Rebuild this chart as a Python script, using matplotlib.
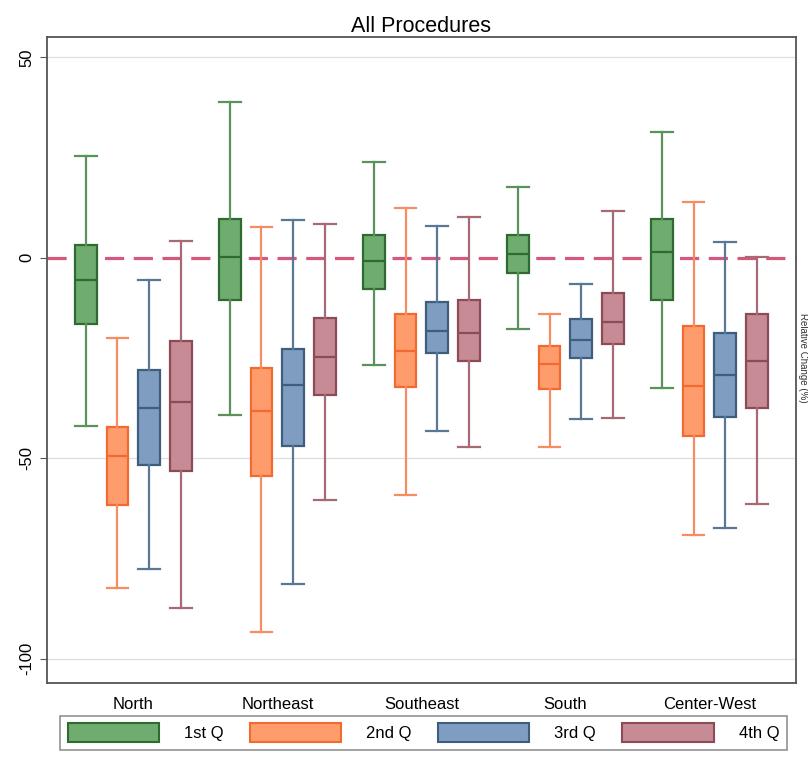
import matplotlib
matplotlib.use("Agg")
import matplotlib.pyplot as plt
from matplotlib.patches import Patch

plt.rcParams['font.family'] = ['Liberation Sans', 'DejaVu Sans']

regions = ["North", "Northeast", "Southeast", "South", "Center-West"]
quartiles = ["1st Q", "2nd Q", "3rd Q", "4th Q"]

# per quartile group: [whislo, q1, median, q3, whishi] for each region
q1_stats = [[-41.9, -16.4, -5.5, 3.2, 25.5],
            [-39.1, -10.4, 0.2, 9.6, 38.8],
            [-26.8, -7.9, -0.7, 5.8, 24.0],
            [-17.8, -3.8, 1.0, 5.6, 17.7],
            [-32.4, -10.6, 1.5, 9.8, 31.3]]
q2_stats = [[-82.3, -61.6, -49.4, -42.3, -19.9],
            [-93.4, -54.4, -38.3, -27.6, 7.8],
            [-59.1, -32.2, -23.3, -14.1, 12.4],
            [-47.1, -32.7, -26.4, -22.1, -14.1],
            [-69.1, -44.5, -32.0, -17.1, 14.0]]
q3_stats = [[-77.5, -51.8, -37.4, -27.9, -5.6],
            [-81.3, -46.9, -31.7, -22.8, 9.4],
            [-43.1, -23.7, -18.2, -11.0, 8.0],
            [-40.3, -25.1, -20.4, -15.2, -6.5],
            [-67.4, -39.6, -29.3, -18.8, 3.9]]
q4_stats = [[-87.3, -53.2, -35.9, -20.8, 4.1],
            [-60.5, -34.2, -24.7, -15.1, 8.5],
            [-47.1, -25.7, -18.7, -10.6, 10.1],
            [-39.9, -21.6, -16.1, -8.8, 11.6],
            [-61.4, -37.4, -25.7, -14.1, 0.3]]
all_stats = [q1_stats, q2_stats, q3_stats, q4_stats]

faces = ["#6fac6f", "#ff9c6b", "#7f9dc0", "#c68b94"]
edges = ["#2f6b30", "#f26a30", "#3f5d7d", "#8c4b57"]
whisk = ["#5a925b", "#f78c62", "#5a7896", "#a66a74"]
offsets = [-0.33, -0.11, 0.11, 0.33]
width = 0.15

fig = plt.figure(figsize=(8.08, 7.62), dpi=100)
ax = fig.add_axes([0.058, 0.104, 0.927, 0.847])

for gi, stats in enumerate(all_stats):
    bstats = []
    for s in stats:
        bstats.append(dict(whislo=s[0], q1=s[1], med=s[2], q3=s[3], whishi=s[4], fliers=[]))
    pos = [i + offsets[gi] for i in range(len(regions))]
    ax.bxp(bstats, positions=pos, widths=width, patch_artist=True, showfliers=False,
           capwidths=width,
           boxprops=dict(facecolor=faces[gi], edgecolor=edges[gi], linewidth=1.6),
           medianprops=dict(color=edges[gi], linewidth=1.6),
           whiskerprops=dict(color=whisk[gi], linewidth=1.6),
           capprops=dict(color=whisk[gi], linewidth=1.6), zorder=3)

for yv in [50, -50, -100]:
    ax.axhline(yv, color="#dddddd", linewidth=0.9, zorder=1)
ax.axhline(0, color="#d4587c", linestyle=(0, (6, 3)), linewidth=2.3, zorder=2)

ax.set_xlim(-0.6, 4.6)
ax.set_ylim(-106, 55)
ax.set_yticks([50, 0, -50, -100])
ax.set_yticklabels(["50", "0", "-50", "-100"], rotation=90, va="center", fontsize=12)
ax.set_xticks(range(len(regions)))
ax.set_xticklabels(regions, fontsize=12)
ax.tick_params(axis="x", length=0, pad=10)
ax.tick_params(axis="y", length=5, color="#555555", pad=4)
for sp in ax.spines.values():
    sp.set_color("#555555")
    sp.set_linewidth(1.3)

ax.set_title("All Procedures", fontsize=15.5, pad=4)

fig.text(0.988, 0.53, "Relative Change (%)", rotation=-90, va="center", ha="left",
         fontsize=7, color="#333333")

handles = [Patch(facecolor=faces[i], edgecolor=edges[i], linewidth=1.5) for i in range(4)]
leg = fig.legend(handles, quartiles, loc="lower left", bbox_to_anchor=(0.064, 0.005, 0.92, 0.05),
                 mode="expand", ncol=4, fontsize=12, handlelength=5.5, handleheight=1.4,
                 fancybox=False, edgecolor="#777777", borderpad=0.45, handletextpad=1.5)
leg.get_frame().set_linewidth(1.2)

fig.savefig("out.png", dpi=100)
